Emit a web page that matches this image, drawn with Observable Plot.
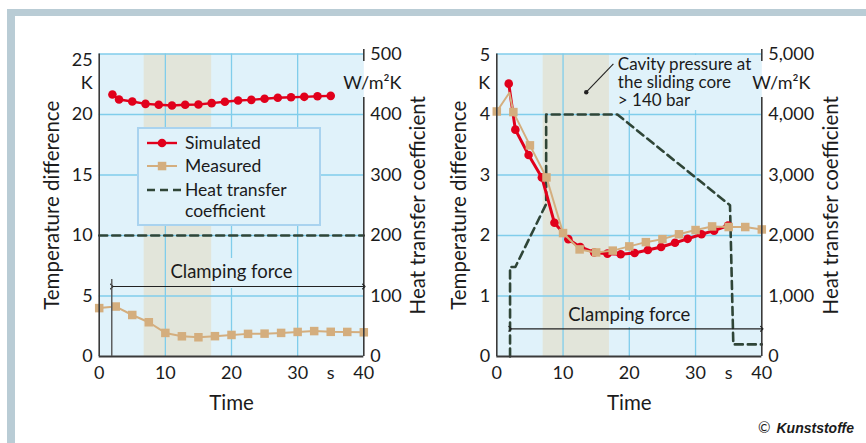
<!DOCTYPE html>
<html>
<head>
<meta charset="utf-8">
<script src="https://cdn.jsdelivr.net/npm/d3@7"></script>
<script src="https://cdn.jsdelivr.net/npm/@observablehq/plot@0.6"></script>
<style>
  html, body { margin: 0; padding: 0; background: #fff; }
  #wrap { position: relative; width: 866px; height: 443px; overflow: hidden; background: #fff; font-family: Lato, "Noto Sans", sans-serif; color: #1b1b1b; }
  #leftChart { position: absolute; left: 0; top: 0; }
  #rightChart { position: absolute; left: 433px; top: 0; }
  .band { position: absolute; background: #b9ccd5; z-index: 5; }
  #legend { position: absolute; left: 137px; top: 127px; width: 184px; height: 99px; z-index: 4; }
  #credit { position: absolute; left: 758px; top: 418px; font-size: 15px; white-space: nowrap; z-index: 4; }
  #credit b { font-family: "Liberation Sans", Arial, sans-serif; font-style: italic; font-weight: bold; font-size: 14px; margin-left: 6px; }
</style>
</head>
<body>
<div id="wrap">
  <div id="leftChart"></div>
  <div id="rightChart"></div>
  <div class="band" style="left:7px;top:9px;width:859px;height:7px"></div>
  <div class="band" style="left:7px;top:9px;width:8px;height:434px"></div>
  <div id="legend"></div>
  <div id="credit">©<b>Kunststoffe</b></div>
</div>
<script>
// ---------- shared axis data ----------
const timeTicks = [0, 10, 20, 30, 35, 40];
const timeTickLabels = ["0", "10", "20", "30", "s", "40"];
const gridTimes = [10, 20, 30];

// ---------- left chart data ----------
const leftTempTicks = [0, 5, 10, 15, 20, 25];
const leftHtcTickLabels = ["0", "100", "200", "300", "400", "500"];
const leftSimTime = [2, 3, 5, 7, 9, 11, 13, 15, 17, 19, 21, 23, 25, 27, 29, 31, 33, 35];
const leftSimTemp = [21.65, 21.24, 21.07, 20.88, 20.8, 20.74, 20.8, 20.83, 20.94, 21.05, 21.16, 21.21, 21.3, 21.38, 21.43, 21.46, 21.51, 21.54];
const leftMeasTime = [0, 2.5, 5, 7.5, 10, 12.5, 15, 17.5, 20, 22.5, 25, 27.5, 30, 32.5, 35, 37.5, 40];
const leftMeasTemp = [4.0, 4.13, 3.43, 2.83, 1.95, 1.67, 1.59, 1.68, 1.78, 1.87, 1.89, 1.95, 2.03, 2.1, 2.04, 2.03, 2.0];
const leftHtcTime = [0, 40];
const leftHtcValue = [200, 200];
const leftBand = [6.8, 17];
const leftClampStart = 1.9;

// ---------- right chart data ----------
const rightTempTicks = [0, 1, 2, 3, 4, 5];
const rightHtcTickLabels = ["0", "1,000", "2,000", "3,000", "4,000", "5,000"];
const rightSimTime = [1.8, 2.8, 4.8, 6.8, 8.7, 10.8, 12.6, 14.7, 16.7, 18.7, 20.8, 22.8, 24.8, 26.9, 28.8, 30.9, 32.8, 34.9];
const rightSimTemp = [4.51, 3.75, 3.33, 2.96, 2.21, 1.94, 1.81, 1.72, 1.70, 1.69, 1.71, 1.76, 1.81, 1.88, 1.945, 2.02, 2.08, 2.165];
const rightMeasTime = [0, 2.5, 5, 7.5, 10, 12.5, 15, 17.5, 20, 22.5, 25, 27.5, 30, 32.5, 35, 37.5, 40];
const rightMeasTemp = [4.05, 4.04, 3.49, 2.96, 2.04, 1.77, 1.72, 1.75, 1.82, 1.89, 1.94, 2.02, 2.09, 2.15, 2.14, 2.14, 2.10];
const rightMeasPeak = [1.9, 4.36];
const rightHtcTime = [2, 2, 2.8, 7.45, 7.45, 18.2, 35.2, 35.7, 40];
const rightHtcValue = [0, 1480, 1480, 2520, 4000, 4000, 2500, 200, 200];
const rightBand = [7, 17];
const rightClampStart = 2;
const rightNote = "Cavity pressure at\nthe sliding core\n> 140 bar";

// ---------- styling ----------
const FONT = "Lato, 'Noto Sans', sans-serif";
const BG = "#e0f2fa", BAND = "#e2e5da", GRID = "#80cdeb", AXIS = "#3a3a3a";
const RED = "#e1001b", TAN = "#d4ae7e", HTC = "#2f4537", INK = "#1b1b1b";
const TOP = 53.5, BOTTOM = 356, H = 443;

function makeChart(c) {
  const yMax = c.tempTicks[c.tempTicks.length - 1];
  const factor = Number(c.htcTickLabels[c.htcTickLabels.length - 1].replace(/,/g, "")) / yMax;
  const yPx = px => (BOTTOM - px) * yMax / (BOTTOM - TOP);
  const sim = c.simTime.map((t, i) => ({t, v: c.simTemp[i]}));
  const meas = c.measTime.map((t, i) => ({t, v: c.measTemp[i]}));
  const measLine = c.measPeak ? [...meas, {t: c.measPeak[0], v: c.measPeak[1]}].sort((a, b) => a.t - b.t) : meas;
  const htc = c.htcTime.map((t, i) => ({t, v: c.htcValue[i] / factor}));

  const marks = [
    Plot.frame({fill: BG, stroke: "none"}),
    Plot.rect([c.band], {x1: d => d[0], x2: d => d[1], y1: 0, y2: yMax, fill: BAND}),
    Plot.ruleX(gridTimes, {stroke: GRID, strokeWidth: 1.3}),
    Plot.ruleY(c.tempTicks.filter(d => d > 0), {stroke: GRID, strokeWidth: 1.3}),
    ...c.knockouts.map(k => Plot.rect([k], {x1: k.x1, x2: k.x2, y1: yPx(k.py1), y2: yPx(k.py2), fill: BG})),
    Plot.line(htc, {x: "t", y: "v", stroke: HTC, strokeWidth: 2.6, strokeDasharray: "8,5"}),
    Plot.line(sim, {x: "t", y: "v", stroke: RED, strokeWidth: c.simWidth}),
    Plot.dot(sim, {x: "t", y: "v", r: 4.3, fill: RED}),
    Plot.line(measLine, {x: "t", y: "v", stroke: TAN, strokeWidth: 2}),
    Plot.dot(meas, {x: "t", y: "v", symbol: "square", r: 4.8, fill: TAN}),
    // axis lines
    Plot.ruleX([0], {stroke: AXIS, strokeWidth: 1.6}),
    Plot.ruleY([0], {stroke: AXIS, strokeWidth: 1.8}),
    Plot.ruleX([40], {y1: 0, y2: yPx(97), stroke: AXIS, strokeWidth: 1.6}),
    Plot.ruleX([40], {y1: yPx(61), y2: yPx(49), stroke: AXIS, strokeWidth: 1.6}),
    // tick labels
    Plot.text(timeTicks, {x: d => d, text: (d, i) => timeTickLabels[i], frameAnchor: "bottom", lineAnchor: "middle", dy: 17, fontSize: 18, fill: INK}),
    Plot.text(c.tempTicks.slice(0, -1), {y: d => d, text: d => String(d), frameAnchor: "left", textAnchor: "end", lineAnchor: "middle", dx: -6.5, fontSize: 18, fill: INK}),
    Plot.text(c.tempTicks.slice(-1), {y: d => d, text: d => String(d), frameAnchor: "left", textAnchor: "end", lineAnchor: "middle", dx: -6.5, dy: c.topDy, fontSize: 18, fill: INK}),
    Plot.text(c.tempTicks, {y: d => d, text: (d, i) => c.htcTickLabels[i], frameAnchor: "right", textAnchor: "start", lineAnchor: "middle", dx: 6.5, fontSize: 18, fill: INK}),
    // units
    Plot.text(["K"], {text: d => d, frameAnchor: "top-left", textAnchor: "end", lineAnchor: "middle", dx: -6.5, dy: 29.5, fontSize: 18, fill: INK}),
    Plot.text(["W/m²K"], {text: d => d, frameAnchor: "top-right", textAnchor: "start", lineAnchor: "middle", dx: c.unitDx, dy: 29.5, fontSize: 18, fill: INK}),
    // axis titles
    Plot.text(["Temperature difference"], {text: d => d, frameAnchor: "left", textAnchor: "middle", lineAnchor: "middle", rotate: -90, dx: c.leftTitleDx, fontSize: 20.5, fill: INK}),
    Plot.text(["Heat transfer coefficient"], {text: d => d, frameAnchor: "right", textAnchor: "middle", lineAnchor: "middle", rotate: -90, dx: c.rightTitleDx, fontSize: 20.5, fill: INK}),
    Plot.text(["Time"], {text: d => d, frameAnchor: "bottom", textAnchor: "middle", lineAnchor: "middle", dy: 46.5, fontSize: 20.5, fill: INK}),
    // clamping force
    Plot.link([c.clampStart], {x1: d => d, x2: 40, y1: yPx(c.arrowPx), y2: yPx(c.arrowPx), stroke: "#222", strokeWidth: 1.2, markerStart: "arrow", markerEnd: "arrow"}),
    Plot.text(["Clamping force"], {text: d => d, x: 20, y: yPx(c.clampTextPx), lineAnchor: "middle", fontSize: 18.5, fill: INK})
  ];
  if (c.clampTickTopPx) {
    marks.push(Plot.ruleX([c.clampStart], {y1: 0, y2: yPx(c.clampTickTopPx), stroke: "#555", strokeWidth: 1.4}));
  }
  if (c.note) {
    marks.push(
      Plot.link([c.note], {x1: 13.5, y1: yPx(91.7), x2: 17.6, y2: yPx(63.3), stroke: "#222", strokeWidth: 1.1}),
      Plot.dot([c.note], {x: 13.5, y: yPx(91.7), r: 2.2, fill: "#222"}),
      Plot.text([c.note], {text: d => d, x: 18.27, y: yPx(56), textAnchor: "start", lineAnchor: "top", lineHeight: 1.08, fontSize: 17, fill: INK})
    );
  }
  return Plot.plot({
    width: 433, height: H,
    marginLeft: c.ml, marginRight: c.mr, marginTop: TOP, marginBottom: H - BOTTOM,
    style: {background: "transparent", fontFamily: FONT, overflow: "visible"},
    x: {domain: [0, 40], axis: null},
    y: {domain: [0, yMax], axis: null},
    marks
  });
}

document.getElementById("leftChart").append(makeChart({
  tempTicks: leftTempTicks, htcTickLabels: leftHtcTickLabels,
  simTime: leftSimTime, simTemp: leftSimTemp, measTime: leftMeasTime, measTemp: leftMeasTemp,
  htcTime: leftHtcTime, htcValue: leftHtcValue, band: leftBand, clampStart: leftClampStart,
  ml: 98.7, mr: 433 - 363.3, simWidth: 2.4, topDy: 6.5, unitDx: -20.5,
  leftTitleDx: -47, rightTitleDx: 54.4,
  arrowPx: 286, clampTextPx: 272, clampTickTopPx: 279,
  knockouts: [{x1: 17.3, x2: 29, py1: 288, py2: 258}]
}));

document.getElementById("rightChart").append(makeChart({
  tempTicks: rightTempTicks, htcTickLabels: rightHtcTickLabels,
  simTime: rightSimTime, simTemp: rightSimTemp, measTime: rightMeasTime, measTemp: rightMeasTemp,
  measPeak: rightMeasPeak,
  htcTime: rightHtcTime, htcValue: rightHtcValue, band: rightBand, clampStart: rightClampStart,
  ml: 63.3, mr: 433 - 328.3, simWidth: 3, topDy: 1.5, unitDx: -9.5,
  leftTitleDx: -37.5, rightTitleDx: 69.2,
  arrowPx: 328.3, clampTextPx: 315,
  note: rightNote,
  knockouts: [{x1: 18.3, x2: 21.7, py1: 327, py2: 300}, {x1: 17.5, x2: 37.5, py1: 110, py2: 55}]
}));

// ---------- legend (overlay on left chart) ----------
const legendItems = ["Simulated", "Measured", "Heat transfer", "coefficient"];
const lg = d3.select("#legend").append("svg").attr("width", 184).attr("height", 99).style("display", "block");
lg.append("rect").attr("x", 1).attr("y", 1).attr("width", 182).attr("height", 97).attr("fill", BG).attr("stroke", "#a9d3ef").attr("stroke-width", 2);
lg.append("line").attr("x1", 10).attr("x2", 40).attr("y1", 16).attr("y2", 16).attr("stroke", RED).attr("stroke-width", 2.4);
lg.append("circle").attr("cx", 25).attr("cy", 16).attr("r", 4.3).attr("fill", RED);
lg.append("line").attr("x1", 10).attr("x2", 40).attr("y1", 39).attr("y2", 39).attr("stroke", TAN).attr("stroke-width", 2);
lg.append("rect").attr("x", 20.8).attr("y", 34.8).attr("width", 8.5).attr("height", 8.5).attr("fill", TAN);
lg.append("line").attr("x1", 10).attr("x2", 44).attr("y1", 63).attr("y2", 63).attr("stroke", HTC).attr("stroke-width", 2.4).attr("stroke-dasharray", "8,5");
const ly = [16, 39, 63, 84];
lg.selectAll("text.l").data(legendItems).join("text")
  .attr("x", 48).attr("y", (d, i) => ly[i]).attr("dy", "0.35em")
  .attr("font-family", FONT).attr("font-size", 17.5).attr("fill", INK).text(d => d);
</script>
</body>
</html>
